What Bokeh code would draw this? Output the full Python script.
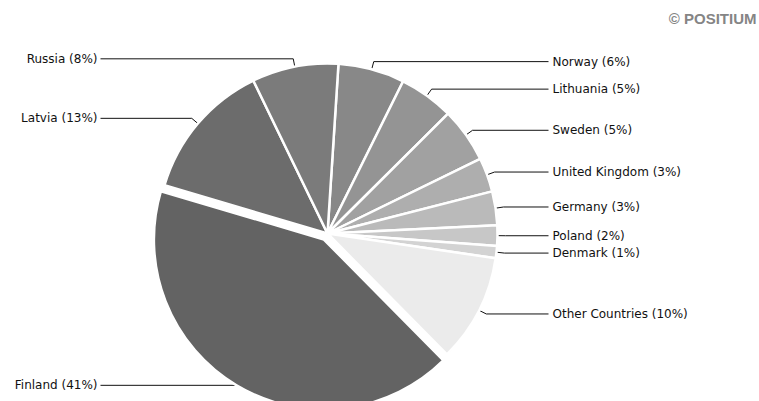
import math
from bokeh.plotting import figure
from bokeh.models import ColumnDataSource, Range1d
from bokeh.core.properties import value
from bokeh.embed import file_html
from bokeh.resources import INLINE

# ---- data (clockwise from near 12 o'clock) ----
countries = ["Norway", "Lithuania", "Sweden", "United Kingdom", "Germany",
             "Poland", "Denmark", "Other Countries", "Finland", "Latvia", "Russia"]
shares = [6.3, 5.2, 5.2, 3.25, 3.2, 1.95, 1.15, 10.25, 41.9, 13.2, 8.2]
pct_labels = ["6%", "5%", "5%", "3%", "3%", "2%", "1%", "10%", "41%", "13%", "8%"]
colors = ["#888888", "#949494", "#a1a1a1", "#aeaeae", "#bababa",
          "#c7c7c7", "#d3d3d3", "#ebebeb", "#636363", "#6c6c6c", "#7b7b7b"]
exploded = ["Finland"]

# ---- layout ----
W, H = 759, 401
cx, cy = 327, H - 233
R = 170
start_deg = 3.7           # clockwise from 12 o'clock
explode_px = 7
left_text_x, right_text_x = 97, 552
left_line_x, right_line_x = 100, 548

p = figure(width=W, height=H, output_backend="svg", toolbar_location=None,
           x_axis_type=None, y_axis_type=None, min_border=0,
           x_range=Range1d(0, W), y_range=Range1d(0, H))
p.outline_line_color = None
p.grid.visible = False
p.background_fill_color = "white"

total = sum(shares)
acc = start_deg
wx, wy, sa, ea, fc = [], [], [], [], []
lines_x, lines_y = [], []
tl_x, tl_y, tl_t = [], [], []
tr_x, tr_y, tr_t = [], [], []
for name, v, lab, col in zip(countries, shares, pct_labels, colors):
    span = v / total * 360.0
    t1, t2 = acc, acc + span
    acc = t2
    mid = math.radians((t1 + t2) / 2)
    ux, uy = math.sin(mid), math.cos(mid)   # data-space direction (y up)
    off = explode_px if name in exploded else 0
    ox, oy = cx + ux * off, cy + uy * off
    wx.append(ox); wy.append(oy)
    sa.append(math.radians(90 - t2)); ea.append(math.radians(90 - t1))
    fc.append(col)
    # leader line (anchored on the un-exploded circle)
    ax_, ay_ = cx + ux * (R - 2), cy + uy * (R - 2)
    ex_, ey_ = cx + ux * (R + 8), cy + uy * (R + 8)
    if off:
        ex_, ey_ = cx + ux * (R + 7), cy + uy * (R + 7)
    text = f"{name} ({lab})"
    if ux >= 0:
        lines_x.append([ax_, ex_, right_line_x]); lines_y.append([ay_, ey_, ey_])
        tr_x.append(right_text_x); tr_y.append(ey_); tr_t.append(text)
    else:
        lines_x.append([ax_, ex_, left_line_x]); lines_y.append([ay_, ey_, ey_])
        tl_x.append(left_text_x); tl_y.append(ey_); tl_t.append(text)

p.multi_line(xs=lines_x, ys=lines_y, line_color="#111111", line_width=1)

src = ColumnDataSource(dict(x=wx, y=wy, sa=sa, ea=ea, c=fc))
p.wedge(x="x", y="y", radius=R, start_angle="sa", end_angle="ea",
        fill_color="c", line_color="white", line_width=2.5, source=src)

font = value("DejaVu Sans")
p.text(x=tr_x, y=tr_y, text=tr_t, text_align="left", text_baseline="middle",
       text_font=font, text_font_size="12px", text_color="#111111")
p.text(x=tl_x, y=tl_y, text=tl_t, text_align="right", text_baseline="middle",
       text_font=font, text_font_size="12px", text_color="#111111")

p.text(x=[756], y=[H - 18], text=["© POSITIUM"], text_align="right",
       text_baseline="middle", text_font=value("Liberation Sans"),
       text_font_size="15px", text_font_style="bold", text_color="#858585")

open("out.html", "w").write(file_html(p, INLINE))
